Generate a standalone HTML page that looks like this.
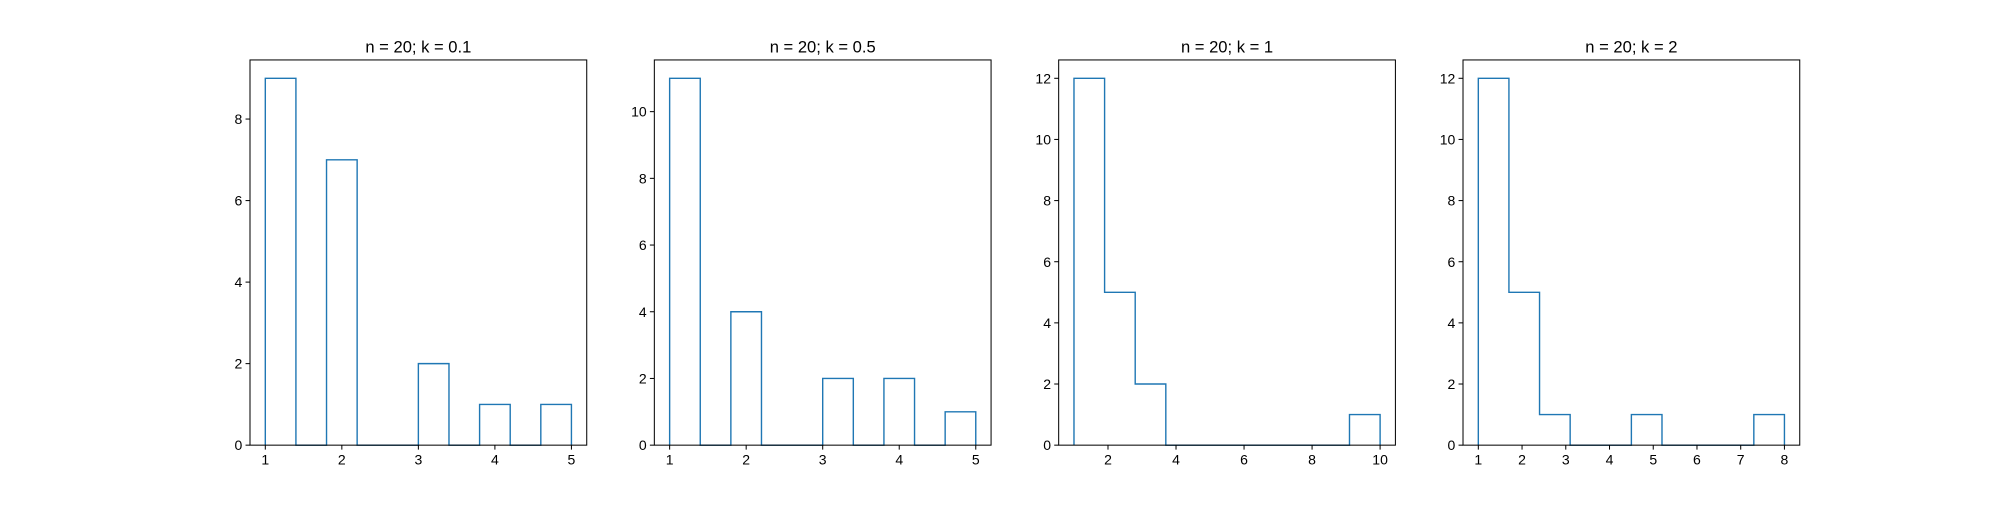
<!DOCTYPE html>
<html><head><meta charset="utf-8"><style>
body{margin:0;background:#fff;}
svg text{font-family:"Liberation Sans","DejaVu Sans",sans-serif;fill:#000;}
</style></head><body>
<svg id="chart" width="2000" height="500" viewBox="0 0 1568 392" xmlns="http://www.w3.org/2000/svg"></svg>
<script>
const titles = ["n = 20; k = 0.1","n = 20; k = 0.5","n = 20; k = 1","n = 20; k = 2"];
const dataMin = [1,1,1,1];
const dataMax = [5,5,10,8];
const counts1 = [9,0,7,0,0,2,0,1,0,1];
const counts2 = [11,0,4,0,0,2,0,2,0,1];
const counts3 = [12,5,2,0,0,0,0,0,0,1];
const counts4 = [12,5,1,0,0,1,0,0,0,1];
const xTicks1 = [1,2,3,4,5];
const xTicks2 = [1,2,3,4,5];
const xTicks3 = [2,4,6,8,10];
const xTicks4 = [1,2,3,4,5,6,7,8];
const yTicks1 = [0,2,4,6,8];
const yTicks2 = [0,2,4,6,8,10];
const yTicks3 = [0,2,4,6,8,10,12];
const yTicks4 = [0,2,4,6,8,10,12];

const allCounts=[counts1,counts2,counts3,counts4];
const allX=[xTicks1,xTicks2,xTicks3,xTicks4];
const allY=[yTicks1,yTicks2,yTicks3,yTicks4];
const svgEl=document.getElementById('chart');
const NS='http://www.w3.org/2000/svg';
function mk(tag,attrs,parent){const e=document.createElementNS(NS,tag);for(const k in attrs)e.setAttribute(k,attrs[k]);parent.appendChild(e);return e;}
const lefts=[196,513,830,1147], W=264, topY=47, bottomY=349, H=bottomY-topY;
for(let p=0;p<4;p++){
  const g=mk('g',{},svgEl);
  
  
  const L=lefts[p], c=allCounts[p], lo=dataMin[p], hi=dataMax[p];
  const span=hi-lo, x0=lo-0.05*span, x1=hi+0.05*span;
  const ymax=Math.max(...c)*1.05;
  const X=v=>L+(v-x0)/(x1-x0)*W;
  const Y=v=>bottomY-v/ymax*H;
  const bw=span/c.length;
  let d='M'+X(lo)+','+Y(0);
  for(let i=0;i<c.length;i++){d+=' L'+X(lo+i*bw)+','+Y(c[i])+' L'+X(lo+(i+1)*bw)+','+Y(c[i]);}
  d+=' L'+X(hi)+','+Y(0);
  const path=mk('path',{d:d,fill:'none',stroke:'#1f77b4','stroke-width':1.1},g);
  
  
  const frame=mk('rect',{x:L,y:topY,width:W,height:H,fill:'none',stroke:'#000','stroke-width':0.8},g);
  
  
  allX[p].forEach(t=>{
    const x=X(t);
    mk('line',{x1:x,x2:x,y1:bottomY,y2:bottomY+3.5,stroke:'#000','stroke-width':0.8},g);
    const tx=mk('text',{x:x,y:bottomY+15,'font-size':11,'text-anchor':'middle'},g);
    tx.textContent=t;
    
    
  });
  allY[p].forEach(t=>{
    const y=Y(t);
    mk('line',{x1:L-3.5,x2:L,y1:y,y2:y,stroke:'#000','stroke-width':0.8},g);
    const tx=mk('text',{x:L-6,y:y+4,'font-size':11,'text-anchor':'end'},g);
    tx.textContent=t;
    
    
  });
  const ti=mk('text',{x:L+W/2,y:topY-6,'font-size':13,'text-anchor':'middle'},g);
  ti.textContent=titles[p];
  
  
}
</script>
</body></html>
